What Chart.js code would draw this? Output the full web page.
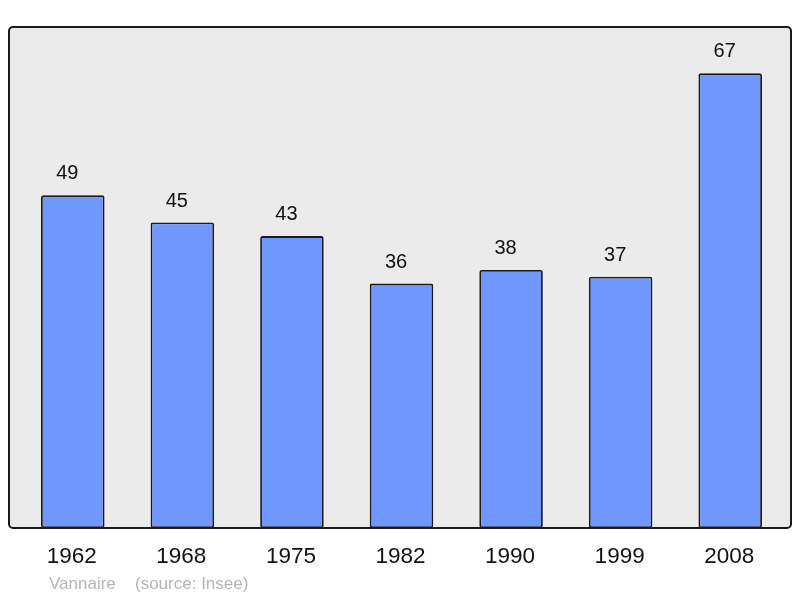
<!DOCTYPE html>
<html><head><meta charset="utf-8">
<script src="https://cdn.jsdelivr.net/npm/chart.js@4/dist/chart.umd.min.js"></script>
<style>html,body{margin:0;padding:0;background:#fff;}#wrap{width:800px;height:598px;}</style>
</head><body><div id="wrap"><canvas id="c" width="800" height="598"></canvas></div>
<script>
const years = ['1962','1968','1975','1982','1990','1999','2008'];
const population = [49,45,43,36,38,37,67];
const placeName = 'Vannaire';
const sourceText = '(source: Insee)';

const framePlugin = {
  id:'frame',
  beforeDraw(chart){
    const ctx = chart.ctx;
    const a = chart.chartArea;
    const x0 = 9, y0 = a.top, x1 = 791, y1 = a.bottom;
    ctx.save();
    ctx.beginPath();
    ctx.roundRect(x0, y0, x1-x0, y1-y0, 4);
    ctx.fillStyle = '#ebebeb';
    ctx.fill();
    ctx.restore();
  },
  afterDatasetsDraw(chart){
    const ctx = chart.ctx;
    const a = chart.chartArea;
    const x0 = 9, y0 = a.top, x1 = 791, y1 = a.bottom;
    ctx.save();
    ctx.beginPath();
    ctx.roundRect(x0, y0, x1-x0, y1-y0, 4);
    ctx.lineWidth = 2;
    ctx.strokeStyle = '#1a1a1a';
    ctx.stroke();
    const meta = chart.getDatasetMeta(0);
    ctx.fillStyle = '#111';
    ctx.textAlign = 'center';
    ctx.textBaseline = 'middle';
    ctx.font = '20px "Liberation Sans", Arial, sans-serif';
    meta.data.forEach((bar,i)=>{
      ctx.fillText(String(population[i]), bar.x - 5.5, bar.y - 21.5);
    });
    ctx.font = '22.5px "Liberation Sans", Arial, sans-serif';
    const xs = chart.scales.x;
    years.forEach((y,i)=>{
      ctx.fillText(y, xs.getPixelForValue(i) - 1, 557);
    });
    ctx.font = '17px "Liberation Sans", Arial, sans-serif';
    ctx.fillStyle = '#b4b4b4';
    ctx.textAlign = 'left';
    ctx.fillText(placeName, 49, 584);
    ctx.fillText(sourceText, 135, 584);
    ctx.restore();
  }
};

new Chart(document.getElementById('c'), {
  type:'bar',
  data:{labels:years, datasets:[{data:population, backgroundColor:'#7096ff', borderColor:'#1a1a1a', borderWidth:1.8, borderRadius:2, borderSkipped:false, barPercentage:0.58, categoryPercentage:1}]},
  options:{
    responsive:false, animation:false, devicePixelRatio:1,
    layout:{padding:{left:18, right:15, top:27, bottom:70}},
    plugins:{legend:{display:false}, tooltip:{enabled:false}},
    scales:{
      x:{display:false},
      y:{display:false, min:0, max:73.8}
    }
  },
  plugins:[framePlugin]
});
</script></body></html>
